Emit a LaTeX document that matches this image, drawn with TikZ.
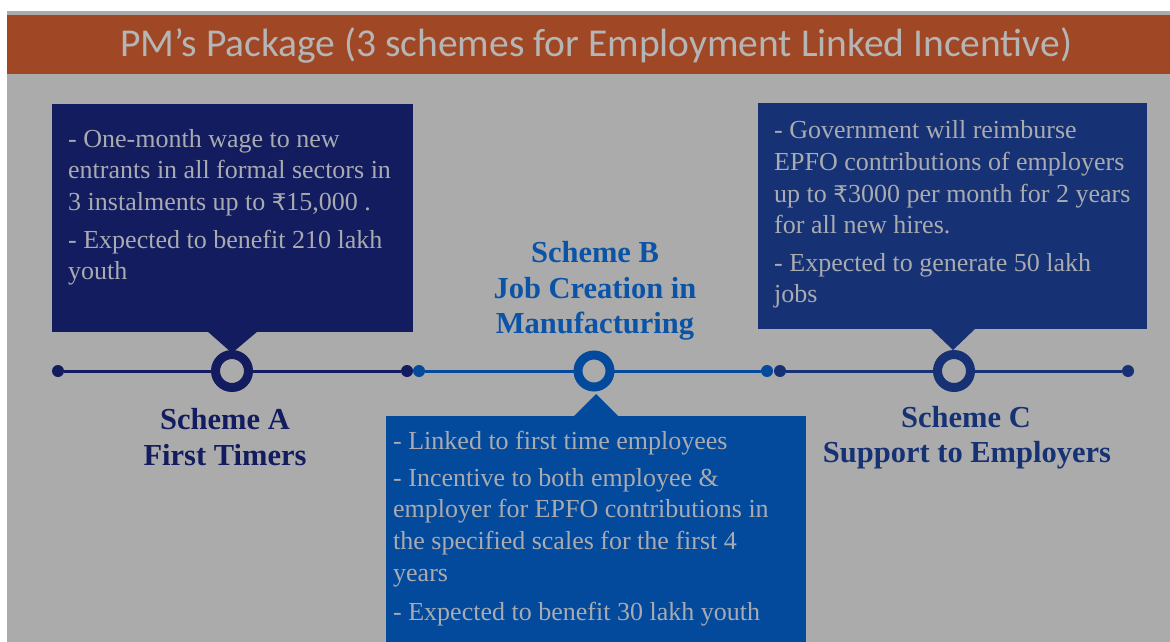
\documentclass[tikz,border=0pt]{standalone}
\usepackage{fontspec}
\setmainfont{Liberation Serif}
\newfontfamily\titlefont{Carlito}
\newfontfamily\rupeefont{DejaVu Sans}
\newcommand{\rupee}{{\rupeefont\fontsize{23}{31}\selectfont ₹}}
\definecolor{bggray}{HTML}{ABABAB}
\definecolor{barorange}{HTML}{A04826}
\definecolor{titlegray}{HTML}{B5B5B5}
\definecolor{navyA}{HTML}{121C5E}
\definecolor{blueB}{HTML}{034A9C}
\definecolor{blueC}{HTML}{163275}
\definecolor{headB}{HTML}{0B53A6}
\definecolor{boxtextcol}{HTML}{A9ABB0}
\tikzset{
  panel/.style={inner sep=0pt, outer sep=0pt, anchor=north west},
  boxline/.style={anchor=base west, inner sep=0pt, text=boxtextcol, font=\fontsize{26}{31}\selectfont},
  headline/.style={anchor=base, inner sep=0pt, font=\fontsize{30.5}{36}\selectfont\bfseries},
  ring/.style={circle, line width=9pt, minimum size=33pt, inner sep=0pt, outer sep=0pt, fill=bggray},
  dot/.style={circle, minimum size=12pt, inner sep=0pt, outer sep=0pt},
  tline/.style={line width=3pt}
}
\begin{document}
\begin{tikzpicture}[x=1pt,y=-1pt]
\useasboundingbox (0,0) rectangle (1170,642);
\fill[white] (0,0) rectangle (1170,642);
\fill[bggray] (7,11) rectangle (1170,642);
\fill[barorange] (7,15) rectangle (1170,74);
\node[inner sep=0pt, text=titlegray, font=\titlefont\fontsize{39.5}{44}\selectfont] (title) at (596,45) {PM’s Package (3 schemes for Employment Linked Incentive)};

% boxes
\node[panel, fill=navyA, minimum width=361pt, minimum height=228pt] (boxA) at (52,104) {};
\node[panel, fill=blueB, minimum width=420pt, minimum height=230pt] (boxB) at (386,416) {};
\node[panel, fill=blueC, minimum width=389pt, minimum height=226pt] (boxC) at (758,103) {};

% pointers
\fill[navyA] (207,331) -- (258,331) -- (232,353) -- cycle;
\fill[blueB] (573,417) -- (619,417) -- (596,394) -- cycle;
\fill[blueC] (930,328) -- (976,328) -- (953,350) -- cycle;

% timeline dots
\node[dot, fill=navyA] (a0) at (58,371) {};
\node[dot, fill=navyA] (a1) at (407,371) {};
\node[dot, fill=blueB] (b0) at (419,371) {};
\node[dot, fill=blueB] (b1) at (767,371) {};
\node[dot, fill=blueC] (c0) at (780,371) {};
\node[dot, fill=blueC] (c1) at (1128,371) {};
% rings
\node[ring, draw=navyA] (ringA) at (232,371) {};
\node[ring, draw=blueB, minimum size=32pt] (ringB) at (594,371) {};
\node[ring, draw=blueC] (ringC) at (954,371) {};
% connectors
\draw[tline, navyA] (a0) -- (ringA);
\draw[tline, navyA] (ringA) -- (a1);
\draw[tline, blueB] (b0) -- (ringB);
\draw[tline, blueB] (ringB) -- (b1);
\draw[tline, blueC] (c0) -- (ringC);
\draw[tline, blueC] (ringC) -- (c1);

% box A text
\node[boxline] (ta1) at (68,147) {- One-month wage to new};
\node[boxline] (ta2) at (68,178.5) {entrants in all formal sectors in};
\node[boxline] (ta3) at (68,210) {3 instalments up to \rupee15,000 .};
\node[boxline] (ta4) at (68,248.5) {- Expected to benefit 210 lakh};
\node[boxline] (ta5) at (68,279.5) {youth};

% box B text
\node[boxline] (tb1) at (393,449) {- Linked to first time employees};
\node[boxline] (tb2) at (393,486) {- Incentive to both employee \&};
\node[boxline] (tb3) at (393,517.5) {employer for EPFO contributions in};
\node[boxline] (tb4) at (393,549) {the specified scales for the first 4};
\node[boxline] (tb5) at (393,581) {years};
\node[boxline] (tb6) at (393,620) {- Expected to benefit 30 lakh youth};

% box C text
\node[boxline] (tc1) at (774,138) {- Government will reimburse};
\node[boxline] (tc2) at (774,170) {EPFO contributions of employers};
\node[boxline] (tc3) at (774,202) {up to \rupee3000 per month for 2 years};
\node[boxline] (tc4) at (774,233.5) {for all new hires.};
\node[boxline] (tc5) at (774,271) {- Expected to generate 50 lakh};
\node[boxline] (tc6) at (774,302) {jobs};

% headings
\node[headline, text=navyA] (ha1) at (225,429) {Scheme A};
\node[headline, text=navyA] (ha2) at (225,465) {First Timers};
\node[headline, text=headB] (hb1) at (595,262) {Scheme B};
\node[headline, text=headB] (hb2) at (595,298) {Job Creation in};
\node[headline, text=headB] (hb3) at (595,333) {Manufacturing};
\node[headline, text=blueC] (hc1) at (966,427) {Scheme C};
\node[headline, text=blueC] (hc2) at (967,462) {Support to Employers};
\end{tikzpicture}
\end{document}
